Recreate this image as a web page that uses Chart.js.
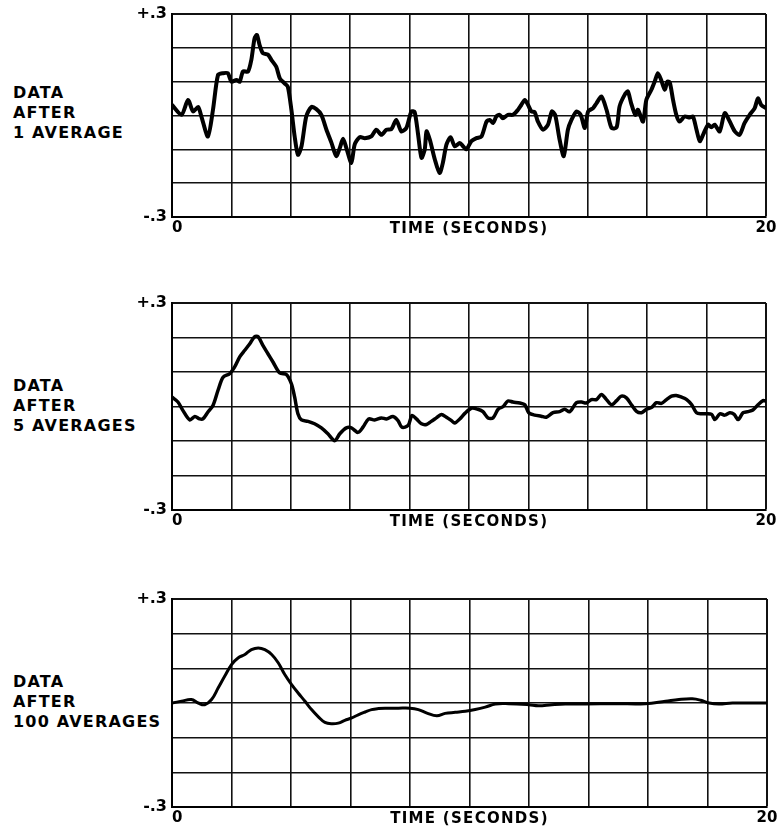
<!DOCTYPE html>
<html>
<head>
<meta charset="utf-8">
<script src="https://cdn.jsdelivr.net/npm/chart.js@4.4.1/dist/chart.umd.min.js"></script>
<style>
  body { margin: 0; background: #fff; }
  #page { position: relative; width: 781px; height: 835px; overflow: hidden; }
  .panel { position: absolute; left: 0; width: 781px; height: 250px; }
  .label {
    position: absolute; left: 13px;
    font-family: "DejaVu Sans", sans-serif; font-weight: bold;
    font-size: 16px; line-height: 20px; letter-spacing: 1.2px; color: #000;
  }
</style>
</head>
<body>
<div id="page">
  <div class="label" style="top:83px">DATA<br>AFTER<br>1 AVERAGE</div>
  <div class="label" style="top:376px">DATA<br>AFTER<br>5 AVERAGES</div>
  <div class="label" style="top:672px">DATA<br>AFTER<br>100 AVERAGES</div>
  <div class="panel" style="top:0px"><canvas id="chart1" width="781" height="250"></canvas></div>
  <div class="panel" style="top:290px"><canvas id="chart2" width="781" height="250"></canvas></div>
  <div class="panel" style="top:585px"><canvas id="chart3" width="781" height="250"></canvas></div>
</div>
<script>
const xTickValues = [0, 20]
const xTickLabels = ['0', '20']
const yTickValues = [0.3, -0.3]
const yTickLabels = ['+.3', '-.3']
const xTitle = 'TIME (SECONDS)'

// 1 average
const time1 = [0, .32, .54, .71, .88, .99, 1.21, 1.38, 1.55, 1.72, 1.88, 2.0, 2.17, 2.28, 2.39, 2.56, 2.67, 2.78, 2.86, 2.95,
  3.06, 3.23, 3.35, 3.51, 3.63, 3.79, 3.9, 4.02, 4.13, 4.24, 4.36, 4.52, 4.69, 4.86, 5.03, 5.2, 5.37, 5.53, 5.65, 5.76,
  5.87, 6.04, 6.15, 6.32, 6.49, 6.71, 6.88, 7.05, 7.22, 7.39, 7.55, 7.72, 7.89, 8.06, 8.17, 8.28, 8.4, 8.51, 8.57, 8.68,
  8.85, 9.01, 9.12, 9.24, 9.38, 9.52, 9.69, 9.8, 9.91, 10.08, 10.25, 10.42, 10.59, 10.7, 10.81, 10.92, 11.03, 11.14, 11.31, 11.48,
  11.65, 11.76, 11.88, 11.99, 12.1, 12.21, 12.32, 12.49, 12.66, 12.79, 12.9, 13.05, 13.19, 13.33, 13.45, 13.62, 13.76, 13.9, 14.01, 14.18,
  14.29, 14.46, 14.63, 14.8, 14.97, 15.07, 15.24, 15.35, 15.46, 15.6, 15.69, 15.86, 15.97, 16.14, 16.25, 16.36, 16.47, 16.59, 16.68, 16.76,
  16.87, 16.98, 17.09, 17.26, 17.43, 17.54, 17.66, 17.77, 17.88, 18.05, 18.16, 18.27, 18.44, 18.61, 18.78, 18.95, 19.11, 19.28, 19.45, 19.62,
  19.73, 19.84, 20]
const data1 = [.031, .002, .046, .012, .025, -.003, -.062, .017, .12, .125, .125, .10, .105, .10, .13, .13, .164, .228, .238, .208,
  .184, .18, .164, .144, .11, .095, .085, .017, -.062, -.116, -.091, -.003, .025, .019, .002, -.042, -.081, -.12, -.096, -.069,
  -.096, -.14, -.086, -.064, -.067, -.062, -.042, -.057, -.042, -.04, -.013, -.047, -.037, .012, .01, -.052, -.125, -.1, -.047, -.071,
  -.13, -.17, -.14, -.086, -.064, -.091, -.081, -.091, -.1, -.076, -.067, -.062, -.018, -.013, -.022, -.003, .002, -.008, .002, .002,
  .017, .031, .046, .031, .012, .01, -.018, -.042, -.027, .012, .002, -.071, -.12, -.042, -.013, .012, .002, -.037, .012, .022,
  .036, .056, .017, -.037, -.035, .027, .061, .071, .036, .002, .017, -.018, .046, .076, .1, .125, .105, .076, .1, .098,
  .046, .002, -.018, -.003, -.006, -.003, -.042, -.076, -.057, -.027, -.035, -.027, -.047, .007, -.018, -.047, -.057, -.022, .002, .022,
  .051, .031, .022]

// 5 averages
const time2 = [0, .2, .37, .6, .77, .93, 1.04, 1.21, 1.38, 1.55, 1.72, 1.94, 2.11, 2.28, 2.45, 2.62, 2.78, 2.9, 3.06, 3.23,
  3.4, 3.63, 3.85, 4.02, 4.13, 4.24, 4.36, 4.58, 4.8, 5.03, 5.25, 5.48, 5.65, 5.87, 6.04, 6.26, 6.43, 6.62, 6.82, 7.05,
  7.22, 7.44, 7.61, 7.74, 7.95, 8.08, 8.23, 8.4, 8.57, 8.73, 8.9, 9.07, 9.24, 9.41, 9.52, 9.69, 9.86, 10.08, 10.3, 10.47,
  10.64, 10.81, 10.98, 11.15, 11.31, 11.48, 11.71, 11.88, 12.01, 12.21, 12.43, 12.6, 12.83, 13.05, 13.22, 13.39, 13.62, 13.79, 13.95, 14.12,
  14.29, 14.46, 14.63, 14.8, 14.97, 15.13, 15.3, 15.47, 15.64, 15.81, 15.97, 16.14, 16.31, 16.48, 16.65, 16.82, 16.98, 17.16, 17.33, 17.5,
  17.66, 17.83, 18.0, 18.17, 18.28, 18.45, 18.61, 18.78, 18.93, 19.06, 19.23, 19.39, 19.56, 19.73, 19.9, 20]
const data2 = [.027, .013, -.012, -.039, -.029, -.036, -.036, -.016, .003, .047, .085, .095, .115, .144, .163, .182, .202, .202, .177, .153,
  .129, .097, .093, .066, .027, -.021, -.039, -.043, -.05, -.062, -.079, -.099, -.079, -.062, -.062, -.075, -.06, -.036, -.039, -.033,
  -.036, -.029, -.041, -.06, -.055, -.026, -.036, -.05, -.052, -.043, -.033, -.023, -.031, -.041, -.048, -.036, -.02, -.005, -.008, -.015,
  -.033, -.033, -.008, 0, .016, .013, .01, .005, -.018, -.025, -.028, -.031, -.018, -.015, -.008, -.015, .011, .013, .01, .02,
  .02, .035, .02, .005, .017, .03, .025, .005, -.014, -.018, -.008, -.003, .011, .009, .02, .03, .032, .027, .02, .005,
  -.018, -.021, -.021, -.023, -.038, -.021, -.025, -.018, -.023, -.038, -.018, -.015, -.01, .005, .017, .015]

// 100 averages
const time3 = [0, .32, .65, .88, 1.1, 1.33, 1.55, 1.77, 2.0, 2.22, 2.45, 2.67, 2.9, 3.12, 3.35, 3.57, 3.79, 4.02, 4.24, 4.47,
  4.69, 4.92, 5.14, 5.37, 5.59, 5.81, 6.04, 6.26, 6.49, 6.71, 6.94, 7.16, 7.61, 8.0, 8.28, 8.57, 8.9, 9.18, 9.52, 9.86,
  10.19, 10.53, 10.87, 11.31, 11.99, 12.32, 12.77, 13.22, 13.9, 14.9, 15.92, 16.59, 17.04, 17.49, 17.77, 18.05, 18.38, 18.84, 19.4, 20]
const data3 = [0, .005, .01, 0, -.005, .01, .043, .077, .111, .13, .14, .154, .159, .154, .14, .116, .082, .053, .029, .005,
  -.019, -.04, -.056, -.06, -.058, -.05, -.043, -.034, -.026, -.019, -.016, -.015, -.015, -.015, -.019, -.029, -.037, -.03, -.027, -.024,
  -.019, -.012, -.003, -.002, -.005, -.008, -.005, -.003, -.003, -.002, -.002, .005, .01, .012, .008, 0, -.003, 0, 0, 0]

Chart.defaults.font.family = '"DejaVu Sans", sans-serif'
Chart.defaults.font.weight = 'bold'
Chart.defaults.font.size = 15
Chart.defaults.color = '#000'

// wider lettering for the axis title, plain for the tick labels
const spacing = {
  id: 'spacing',
  beforeDraw(chart) { chart.ctx.letterSpacing = '1.3px' },
  afterDatasetsDraw(chart) { chart.ctx.letterSpacing = '0px' }
}

const makeChart = (id, times, values, lineW, tension, pad) => {
  const ctx = document.getElementById(id)
  const points = times.map((t, i) => ({ x: t, y: values[i] }))

  new Chart(ctx, {
    type: 'line',
    data: {
      datasets: [{
        data: points,
        borderColor: '#000',
        borderWidth: lineW,
        pointRadius: 0,
        tension: tension,
        borderCapStyle: 'round',
        borderJoinStyle: 'round'
      }]
    },
    options: {
      responsive: false,
      animation: false,
      layout: { padding: pad },
      plugins: { legend: { display: false }, tooltip: { enabled: false } },
      scales: {
        x: {
          type: 'linear',
          min: 0,
          max: 20,
          grid: {
            color: '#111',
            lineWidth: (c) => (c.tick && c.tick.value === 20 ? 2 : 1.6),
            drawTicks: false
          },
          border: { color: '#000', width: 2 },
          ticks: {
            stepSize: 2,
            autoSkip: false,
            maxRotation: 0,
            padding: 2,
            z: 1,
            callback: (v) => {
              const i = xTickValues.indexOf(v)
              if (i < 0) return ''
              return v === 0 ? '\u00a0\u00a0' + xTickLabels[i] : xTickLabels[i]
            }
          },
          title: { display: true, text: xTitle, padding: { top: 0, bottom: 1 } },
          afterFit: (s) => { s.height = 22; s.paddingLeft = 0; s.paddingRight = 0 }
        },
        y: {
          min: -0.3,
          max: 0.3,
          grid: {
            color: '#111',
            lineWidth: (c) => (c.tick && Math.abs(c.tick.value - 0.3) < 1e-6 ? 2 : 1.6),
            drawTicks: false
          },
          border: { color: '#000', width: 2 },
          ticks: {
            stepSize: 0.1,
            padding: 5,
            z: 1,
            font: { size: 16 },
            callback: (v) => {
              const i = yTickValues.findIndex((y) => Math.abs(y - v) < 1e-6)
              return i < 0 ? '' : yTickLabels[i]
            }
          },
          afterFit: (s) => { s.width = 40; s.paddingTop = 0; s.paddingBottom = 0 }
        }
      }
    },
    plugins: [spacing]
  })
}

makeChart('chart1', time1, data1, 4, 0.25, { left: 132, right: 15, top: 14, bottom: 11 })
makeChart('chart2', time2, data2, 3.5, 0.3, { left: 132, right: 15, top: 13, bottom: 8 })
makeChart('chart3', time3, data3, 3, 0.4, { left: 132, right: 14, top: 14, bottom: 6 })
</script>
</body>
</html>
